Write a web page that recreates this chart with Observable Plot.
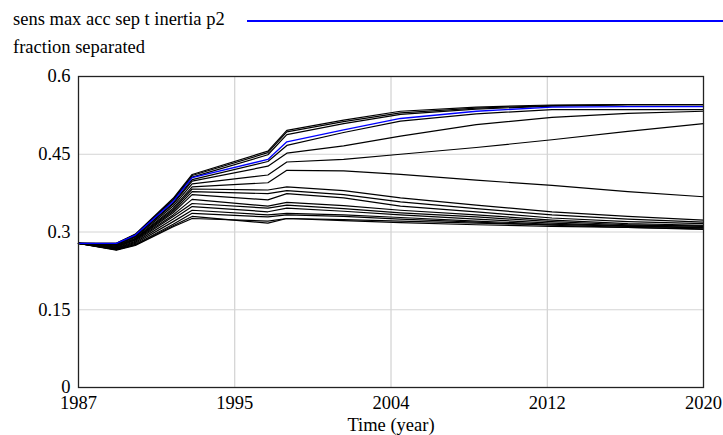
<!DOCTYPE html>
<html>
<head>
<meta charset="utf-8">
<script src="https://cdn.jsdelivr.net/npm/d3@7"></script>
<script src="https://cdn.jsdelivr.net/npm/@observablehq/plot@0.6"></script>
<style>
  html, body { margin: 0; padding: 0; background: #fff; }
  body { width: 723px; height: 435px; overflow: hidden; }
  #head { position: relative; width: 723px; height: 60px; }
  .lbl { position: absolute; left: 13px; font-family: 'Liberation Serif', 'Times New Roman', 'DejaVu Serif', serif; font-size: 18.5px; line-height: 1; white-space: nowrap; color: #000; }
  #legline { position: absolute; left: 247px; right: 0; height: 1.5px; background: #0000ff; }
  #chart svg { display: block; }
  #chart svg text { font-family: 'Liberation Serif', 'Times New Roman', 'DejaVu Serif', serif; }
</style>
</head>
<body>
<div id="head">
  <div class="lbl" style="top:10px; font-family: 'Liberation Serif', serif;">sens max acc sep t inertia p2</div>
  <div id="legline" style="top:20px"></div>
  <div class="lbl" style="top:38px; font-family: 'Liberation Serif', serif;">fraction separated</div>
</div>
<div id="chart"></div>
<script>
// time points (years)
const years = [1987, 1989, 1990, 1992, 1993, 1997, 1998, 2001, 2004, 2008, 2012, 2016, 2020];

// sensitivity runs (black)
const runA1 = [0.278,0.278,0.296,0.365,0.411,0.456,0.496,0.516,0.533,0.541,0.545,0.546,0.546];
const runA2 = [0.278,0.278,0.295,0.363,0.409,0.453,0.493,0.513,0.530,0.539,0.544,0.546,0.546];
const runA3 = [0.278,0.277,0.294,0.361,0.406,0.449,0.488,0.509,0.527,0.537,0.543,0.545,0.545];
const runB  = [0.278,0.277,0.292,0.356,0.401,0.436,0.467,0.492,0.514,0.528,0.536,0.536,0.536];
const runC  = [0.278,0.276,0.291,0.354,0.398,0.427,0.452,0.466,0.485,0.507,0.521,0.529,0.533];
const runD  = [0.278,0.275,0.290,0.350,0.393,0.410,0.435,0.440,0.450,0.463,0.478,0.494,0.509];
const runE  = [0.278,0.274,0.288,0.346,0.387,0.395,0.419,0.418,0.411,0.400,0.390,0.378,0.368];
const runF  = [0.278,0.273,0.287,0.343,0.383,0.381,0.387,0.380,0.366,0.352,0.339,0.330,0.323];
const runG  = [0.278,0.272,0.286,0.340,0.378,0.374,0.380,0.372,0.358,0.345,0.333,0.325,0.319];
const runH  = [0.278,0.271,0.285,0.337,0.372,0.362,0.374,0.366,0.350,0.339,0.327,0.320,0.316];
const runI  = [0.278,0.270,0.284,0.333,0.363,0.350,0.357,0.351,0.342,0.333,0.323,0.316,0.313];
const runJ  = [0.278,0.269,0.282,0.330,0.355,0.346,0.352,0.345,0.337,0.329,0.320,0.314,0.311];
const runK  = [0.278,0.268,0.280,0.325,0.349,0.339,0.346,0.340,0.333,0.325,0.317,0.312,0.309];
const runL  = [0.278,0.267,0.278,0.320,0.342,0.333,0.336,0.333,0.328,0.321,0.315,0.311,0.308];
const runM  = [0.278,0.266,0.276,0.315,0.336,0.329,0.333,0.330,0.325,0.319,0.313,0.309,0.306];
const runN  = [0.278,0.265,0.274,0.310,0.326,0.321,0.326,0.324,0.321,0.317,0.314,0.313,0.312];
const runO  = [0.278,0.266,0.275,0.312,0.330,0.317,0.326,0.322,0.318,0.314,0.311,0.309,0.305];

// highlighted run (blue)
const blueRun = [0.278,0.278,0.294,0.359,0.405,0.440,0.474,0.497,0.519,0.533,0.541,0.542,0.542];

// axis ticks
const xTicks = [1987, 1995.25, 2003.5, 2011.75, 2020];
const xTickLabels = ["1987", "1995", "2004", "2012", "2020"];
const yTicks = [0, 0.15, 0.3, 0.45, 0.6];
const yTickLabels = ["0", "0.15", "0.3", "0.45", "0.6"];

const blackRuns = {runA1, runA2, runA3, runB, runC, runD, runE, runF, runG, runH, runI, runJ, runK, runL, runM, runN, runO};
const blackData = [];
for (const [name, vals] of Object.entries(blackRuns)) {
  vals.forEach((v, i) => blackData.push({run: name, year: years[i], value: v}));
}
const blueData = blueRun.map((v, i) => ({year: years[i], value: v}));

const font = "'Liberation Serif', 'Times New Roman', serif";

const chart = Plot.plot({
  width: 723,
  height: 375,
  marginLeft: 78,
  marginRight: 20,
  marginTop: 16,
  marginBottom: 48,
  style: {fontFamily: font, fontSize: "18.5px", color: "#000", background: "#fff", overflow: "visible"},
  x: {domain: [1987, 2020]},
  y: {domain: [0, 0.6]},
  marks: [
    Plot.gridX(xTicks, {stroke: "#c8c8c8", strokeOpacity: 1, strokeWidth: 1}),
    Plot.gridY(yTicks, {stroke: "#d4d4d4", strokeOpacity: 1, strokeWidth: 1}),
    Plot.axisX({ticks: xTicks, tickFormat: (d, i) => xTickLabels[i], tickSize: 0, tickPadding: 8, label: null, fontSize: 18.5}),
    Plot.axisY({ticks: yTicks, tickFormat: (d, i) => yTickLabels[i], tickSize: 0, tickPadding: 8, label: null, fontSize: 18.5}),
    Plot.text(["Time (year)"], {frameAnchor: "bottom", dy: 43, fontSize: 18.5, fill: "#000"}),
    Plot.lineY(blackData, {x: "year", y: "value", z: "run", stroke: "#000", strokeWidth: 1.2}),
    Plot.lineY(blueData, {x: "year", y: "value", stroke: "#0000ff", strokeWidth: 1.3}),
    Plot.frame({stroke: "#222", strokeWidth: 1.3})
  ]
});
document.getElementById("chart").appendChild(chart);
</script>
</body>
</html>
